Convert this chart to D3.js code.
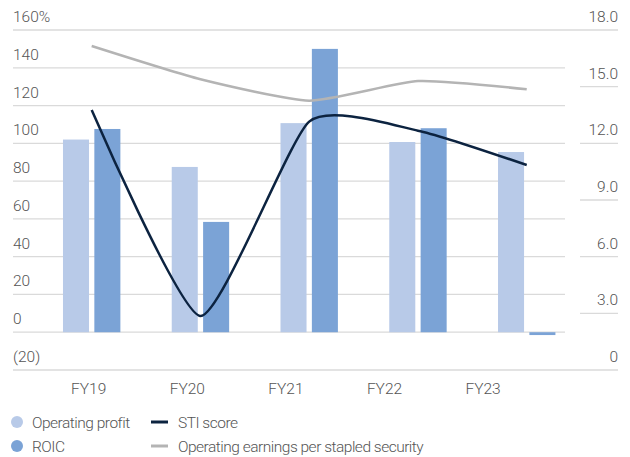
<!DOCTYPE html>
<html>
<head>
<meta charset="utf-8">
<script src="https://cdn.jsdelivr.net/npm/d3@7"></script>
<style>
  body { margin: 0; background: #fff; }
  text { font-family: Roboto, sans-serif; font-weight: 300; fill: #555; }
</style>
</head>
<body>
<svg id="chart"></svg>
<script>
const width = 630;
const height = 457;

// data
const years = ['FY19', 'FY20', 'FY21', 'FY22', 'FY23'];
const operatingProfit = [102, 87.5, 110.7, 100.7, 95.4];
const roic = [107.6, 58.4, 150, 108, -1.5];
const stiScore = [117.6, 8.6, 111.5, 106.7, 88.5];
const earningsPerSecurity = [17.15, 15.39, 14.26, 15.3, 14.86];

const leftTicks = [-20, 0, 20, 40, 60, 80, 100, 120, 140, 160];
const rightTicks = [0, 3, 6, 9, 12, 15, 18];

const barSeries = ['Operating profit', 'ROIC'];
const barColors = ['#b8cae8', '#7ba3d6'];
const stiColor = '#0c2340';
const epsColor = '#b4b4b4';
const gridColor = '#dadada';

const svg = d3.select('#chart')
    .attr('width', width)
    .attr('height', height);

const plotTop = 30, plotBottom = 370;
const gridLeft = 13, gridRight = 565, axisRight = 618;

const y = d3.scaleLinear().domain([-20, 160]).range([plotBottom, plotTop]);
const yRight = d3.scaleLinear().domain([0, 18]).range([plotBottom, plotTop]);

const x = d3.scaleBand().domain(years).range([37.3, 581.1]);
const xSub = d3.scaleBand().domain(barSeries).range([-28.7, 28.7]).paddingInner(0.17);
// category labels sit on their own spacing in the original
const xLabel = d3.scaleBand().domain(years).range([39.4, 532.4]);

// gridlines (left axis)
svg.append('g')
    .selectAll('line')
    .data(leftTicks)
    .enter()
    .append('line')
    .attr('x1', gridLeft)
    .attr('x2', d => (d === -20 || d === 160) ? axisRight : gridRight)
    .attr('y1', d => y(d))
    .attr('y2', d => y(d))
    .attr('stroke', gridColor)
    .attr('stroke-width', 1.3);

// right axis tick underlines
svg.append('g')
    .selectAll('line')
    .data(rightTicks.filter(d => d > 0 && d < 18))
    .enter()
    .append('line')
    .attr('x1', 580)
    .attr('x2', axisRight)
    .attr('y1', d => yRight(d))
    .attr('y2', d => yRight(d))
    .attr('stroke', gridColor)
    .attr('stroke-width', 1.3);

// left labels
svg.append('g')
    .selectAll('text')
    .data(leftTicks)
    .enter()
    .append('text')
    .attr('x', gridLeft)
    .attr('y', d => y(d) - 8)
    .attr('font-size', 15.5)
    .text(d => d < 0 ? `(${-d})` : (d === 160 ? d + '%' : d));

// right labels
svg.append('g')
    .selectAll('text')
    .data(rightTicks)
    .enter()
    .append('text')
    .attr('x', axisRight)
    .attr('y', d => yRight(d) - 8)
    .attr('text-anchor', 'end')
    .attr('font-size', 15.5)
    .text(d => d === 0 ? '0' : d.toFixed(1));

// bars
const barData = years.flatMap((yr, i) => [
    { year: yr, series: barSeries[0], value: operatingProfit[i] },
    { year: yr, series: barSeries[1], value: roic[i] }
]);

svg.append('g')
    .selectAll('rect')
    .data(barData)
    .enter()
    .append('rect')
    .attr('x', d => x(d.year) + x.bandwidth() / 2 + xSub(d.series))
    .attr('y', d => Math.min(y(d.value), y(0)))
    .attr('width', xSub.bandwidth())
    .attr('height', d => Math.abs(y(d.value) - y(0)))
    .attr('fill', d => barColors[barSeries.indexOf(d.series)]);

// lines, smoothed like the original
const cx = yr => x(yr) + x.bandwidth() / 2;
const smooth = d3.curveCardinal.tension(0.45);

svg.append('path')
    .datum(years.map((yr, i) => [cx(yr), yRight(earningsPerSecurity[i])]))
    .attr('fill', 'none')
    .attr('stroke', epsColor)
    .attr('stroke-width', 2.5)
    .attr('d', d3.line().curve(smooth));

svg.append('path')
    .datum(years.map((yr, i) => [cx(yr), y(stiScore[i])]))
    .attr('fill', 'none')
    .attr('stroke', stiColor)
    .attr('stroke-width', 2.5)
    .attr('d', d3.line().curve(smooth));

// category labels
svg.append('g')
    .selectAll('text')
    .data(years)
    .enter()
    .append('text')
    .attr('x', d => xLabel(d) + xLabel.bandwidth() / 2)
    .attr('y', 393.5)
    .attr('text-anchor', 'middle')
    .attr('font-size', 15.5)
    .text(d => d);

// legend
const legend = svg.append('g');
legend.selectAll('circle')
    .data(barSeries)
    .enter()
    .append('circle')
    .attr('cx', 17)
    .attr('cy', (d, i) => 422 + i * 24)
    .attr('r', 6)
    .attr('fill', (d, i) => barColors[i]);

legend.selectAll('text.bar')
    .data(barSeries)
    .enter()
    .append('text')
    .attr('class', 'bar')
    .attr('x', 32)
    .attr('y', (d, i) => 427.5 + i * 24)
    .attr('font-size', 15.5)
    .attr('letter-spacing', -0.5)
    .text(d => d);

const lineSeries = [
    { name: 'STI score', color: stiColor },
    { name: 'Operating earnings per stapled security', color: epsColor }
];

legend.selectAll('line')
    .data(lineSeries)
    .enter()
    .append('line')
    .attr('x1', 151)
    .attr('x2', 168)
    .attr('y1', (d, i) => 422 + i * 24)
    .attr('y2', (d, i) => 422 + i * 24)
    .attr('stroke', d => d.color)
    .attr('stroke-width', 3);

legend.selectAll('text.line')
    .data(lineSeries)
    .enter()
    .append('text')
    .attr('class', 'line')
    .attr('x', 178)
    .attr('y', (d, i) => 427.5 + i * 24)
    .attr('font-size', 15.5)
    .attr('letter-spacing', -0.5)
    .text(d => d.name);
</script>
</body>
</html>
